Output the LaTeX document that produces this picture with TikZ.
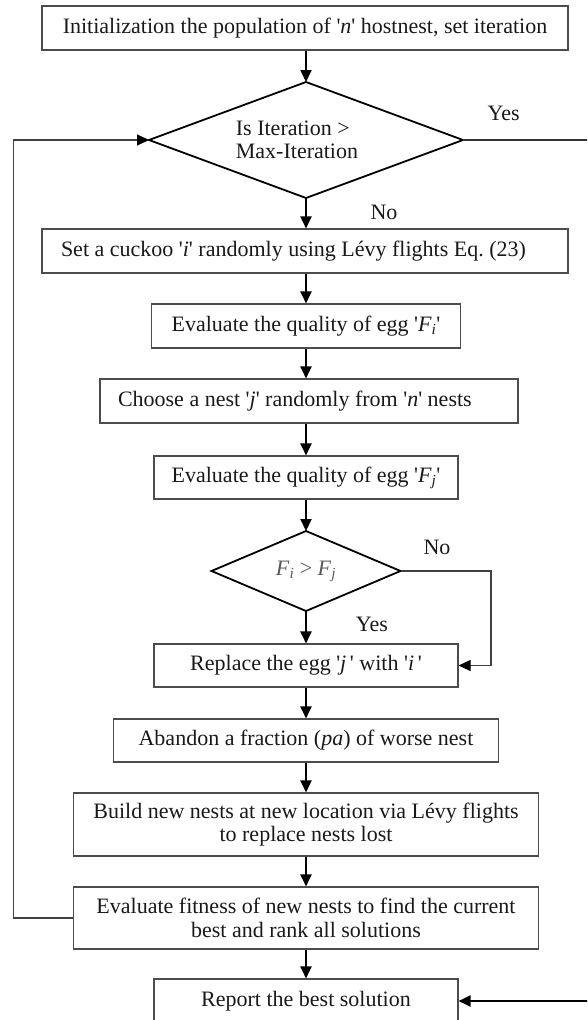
\documentclass[tikz,border=0pt]{standalone}
\usepackage{fontspec}
\setmainfont{Liberation Serif}
\usetikzlibrary{shapes.geometric,arrows.meta}
\newcommand{\sq}{\textquotesingle}
\begin{document}
\begin{tikzpicture}[x=1pt,y=-1pt,
  font=\fontsize{22}{23.5}\selectfont,
  box/.style={draw=black!70, line width=1.1pt, rectangle, inner sep=0pt, minimum height=44pt, text=black!90},
  dia/.style={draw=black, line width=1.8pt, diamond, inner sep=0pt, outer sep=0pt},
  arr/.style={draw=black, line width=2pt, -{Triangle[length=12pt,width=11pt]}},
  thinarr/.style={draw=black!75, line width=1.1pt, -{Triangle[length=12pt,width=11pt,black]}},
  lbl/.style={inner sep=0pt, text=black!90}]
\clip (0,0) rectangle (587,1020);
\useasboundingbox (0,0) rectangle (587,1020);

\node[box, minimum width=526pt] (b1) at (305,28) {Initialization the population of \sq\textit{n}\sq\ hostnest, set iteration};
\node[dia, minimum width=314pt, minimum height=116pt] (d1) at (306,140) {};
\node[lbl, align=left] (t1) at (297,140) {Is Iteration >\\Max-Iteration};
\node[box, minimum width=526pt, inner xsep=19pt] (b2) at (305,251) {\makebox[488pt][l]{Set a cuckoo \sq\textit{i}\sq\ randomly using Lévy flights Eq.\ (23)}};
\node[box, minimum width=309pt] (b3) at (306,326) {Evaluate the quality of egg \sq\textit{F\textsubscript{i}}\sq};
\node[box, minimum width=418pt, inner xsep=18pt] (b4) at (309,401) {\makebox[382pt][l]{Choose a nest \sq\textit{j}\sq\ randomly from \sq\textit{n}\sq\ nests}};
\node[box, minimum width=304pt, minimum height=43pt] (b5) at (306,477.5) {Evaluate the quality of egg \sq\textit{F\textsubscript{j}}\sq};
\node[dia, minimum width=189pt, minimum height=80pt] (d2) at (306,571) {};
\node[lbl, text=black!65] (t2) at (306,571) {\textit{F}\textsubscript{\textit{i}} > \textit{F}\textsubscript{\textit{j}}};
\node[box, minimum width=304pt, minimum height=43pt] (b6) at (306,665.5) {Replace the egg \sq\textit{j}\,\sq\ with \sq\textit{i}\,\sq};
\node[box, minimum width=385pt, minimum height=43pt] (b7) at (306,740.5) {Abandon a fraction (\textit{pa}) of worse nest};
\node[box, minimum width=465pt, minimum height=63pt, align=center] (b8) at (306,824.5) {Build new nests at new location via Lévy flights\\to replace nests lost};
\node[box, minimum width=465pt, minimum height=62pt, align=center] (b9) at (306,918) {Evaluate fitness of new nests to find the current\\best and rank all solutions};
\node[box, minimum width=304pt, minimum height=44pt] (rep) at (306,1001) {Report the best solution};

\node[lbl] (yes1) at (503.6,113) {Yes};
\node[lbl] (no1) at (384,212) {No};
\node[lbl] (no2) at (437,547) {No};
\node[lbl] (yes2) at (372,624) {Yes};

\coordinate (loopX) at (13.8,0);
\coordinate (yesX) at (592,0);
\coordinate (noX) at (491,0);

\draw[arr] (b1.south -| d1.north) -- (d1.north);
\draw[arr] (d1.south) -- (b2.north -| d1.south);
\draw[arr] (b2.south -| b3.north) -- (b3.north);
\draw[arr] (b3.south) -- (b3.south |- b4.north);
\draw[arr] (b4.south -| b3.south) -- (b5.north);
\draw[arr] (b5.south) -- (d2.north);
\draw[arr] (d2.south) -- (b6.north);
\draw[arr] (b6.south) -- (b7.north);
\draw[arr] (b7.south) -- (b8.north);
\draw[arr] (b8.south) -- (b9.north);
\draw[arr] (b9.south) -- (rep.north);

\draw[thinarr] (d2.east) -- (d2.east -| noX) |- (b6.east);
\draw[thinarr] (b9.west) -- (b9.west -| loopX) |- (d1.west);
\draw[draw=black!80, line width=1.1pt] (d1.east) -- (d1.east -| yesX) -- (rep.east -| yesX);
\draw[arr] (rep.east -| yesX) -- (rep.east);
\end{tikzpicture}
\end{document}
